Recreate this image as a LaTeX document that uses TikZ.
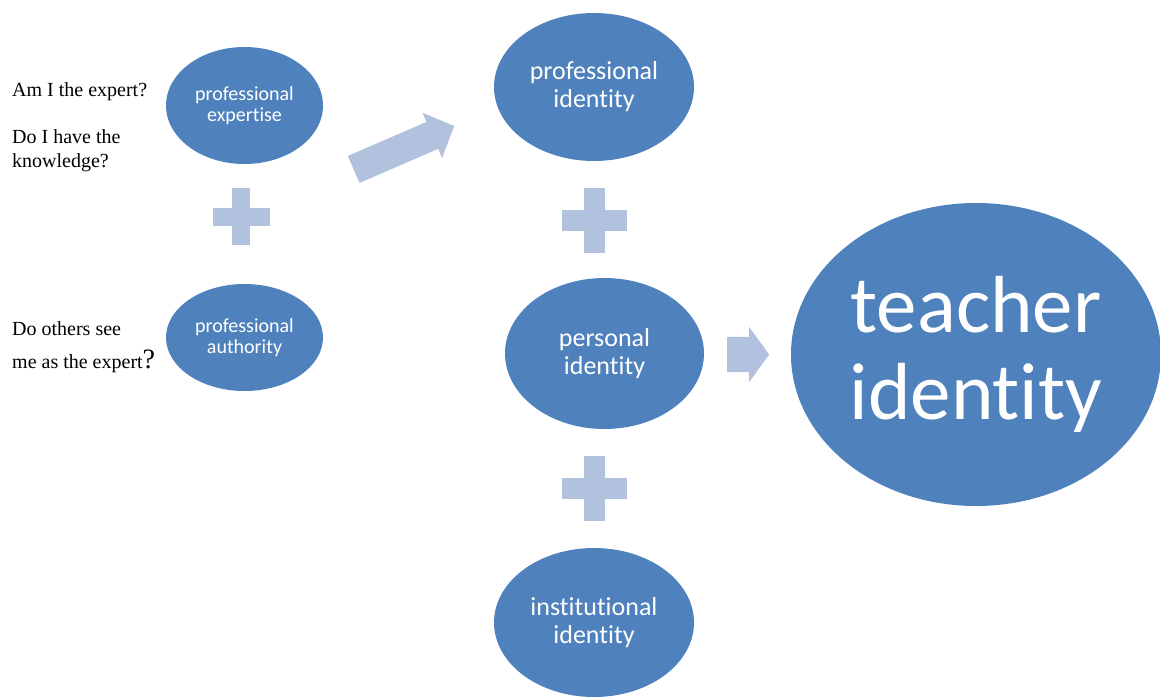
\documentclass[tikz,border=0pt]{standalone}
\usepackage{fontspec}
\setmainfont{Liberation Serif}
\newfontfamily\calibri[Ligatures=NoCommon]{Carlito}
\usetikzlibrary{shapes.geometric,shapes.arrows}
\definecolor{Bubble}{RGB}{79,129,189}
\definecolor{Pale}{RGB}{178,194,222}
\tikzset{
  bubble/.style={ellipse,fill=Bubble,text=white,inner sep=0pt,align=center},
  smallbubble/.style={bubble,minimum width=157pt,font=\calibri\fontsize{20}{21}\selectfont},
  midbubble/.style={bubble,minimum width=200pt,font=\calibri\fontsize{26}{28}\selectfont},
  bigbubble/.style={bubble,minimum width=370pt,minimum height=303pt,font=\calibri\fontsize{81}{87}\selectfont},
  question/.style={anchor=base west,inner sep=0pt,font=\fontsize{20}{24}\selectfont},
  blockarrow/.style={single arrow,fill=Pale,inner xsep=0pt,single arrow head extend=10pt,anchor=tail}
}

\begin{document}
\begin{tikzpicture}[x=1pt,y=-1pt]
        \useasboundingbox (0,0) rectangle (1160,697);
        % left bubbles and their questions
        \node[smallbubble,minimum height=117pt] (expertise) at (244.5,105.5) {professional\\expertise};
        \node[smallbubble,minimum height=107pt] (authority) at (244.5,337.5) {professional\\authority};
        \node[question] (qexpert) at (12,96) {Am I the expert?};
        \node[question] (qknow) at (12,143) {Do I have the};
        \node[question] (qknowb) at (12,167) {knowledge?};
        \node[question] (qothers) at (12,335) {Do others see};
        \node[question] (qothersb) at (12,368) {me as the expert{\fontsize{28}{30}\selectfont?}};
        % the three identities
        \node[midbubble,minimum height=148pt] (profid) at (594,87) {professional\\identity};
        \node[midbubble,minimum height=151pt,minimum width=199pt] (persid) at (604.5,353.5) {personal\\identity};
        \node[midbubble,minimum height=149pt] (instid) at (594,622.5) {institutional\\identity};
        \node[bigbubble] (teacher) at (976,354.5) {teacher\\identity};
        % plus signs
        \foreach \x/\y/\s/\w in {241/216.5/57/18, 594.5/220.5/65/21, 594.5/488.5/65/21}{
          \fill[Pale] (\x-\w/2,\y-\s/2) rectangle (\x+\w/2,\y+\s/2);
          \fill[Pale] (\x-\s/2,\y-\w/2) rectangle (\x+\s/2,\y+\w/2);
        }
        % block arrows
        \node[blockarrow,inner ysep=14.5pt,minimum height=109.5pt,single arrow tip angle=92,rotate=23.4] (uparrow) at (353.5,169.5) {};
        \node[blockarrow,inner ysep=17.5pt,minimum height=42pt,single arrow tip angle=108] (rightarrow) at (727,354.5) {};
\end{tikzpicture}
\end{document}
